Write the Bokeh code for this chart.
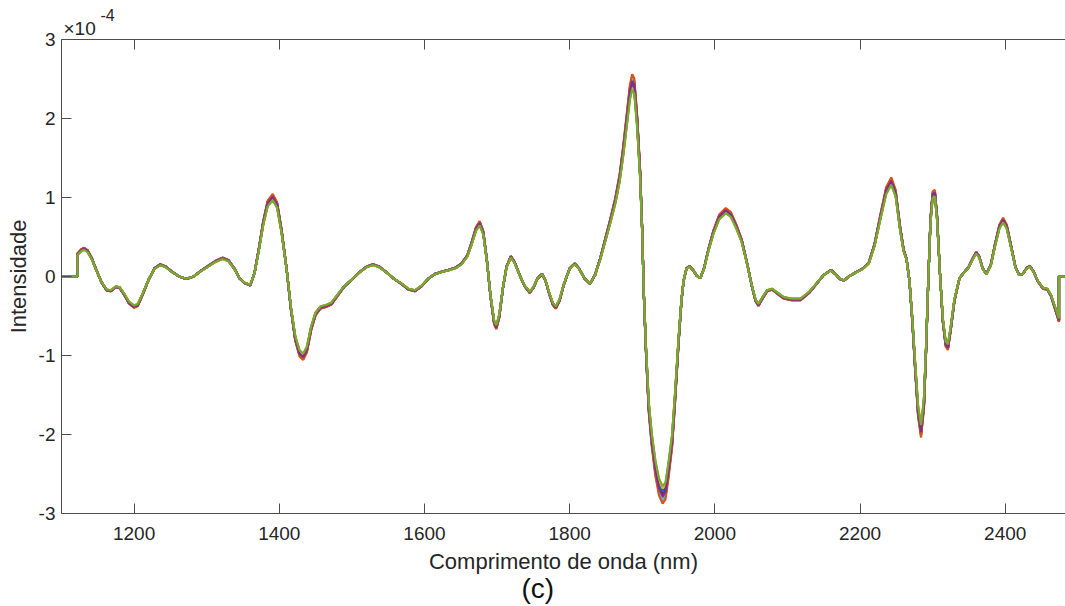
from bokeh.plotting import figure
from bokeh.models import Range1d, LinearAxis, FixedTicker, Title
from bokeh.embed import file_html
from bokeh.resources import INLINE

# Second-derivative NIR spectrum (intensity in units of 1e-4), sampled at
# the turning points and along the flanks of each band.
wavelength_nm = [
    1100, 1122, 1122, 1127, 1131, 1136, 1142, 1148, 1155, 1162, 1168, 1175,
    1180, 1186, 1193, 1200, 1205, 1212, 1220, 1228, 1236, 1244, 1252, 1262,
    1272, 1282, 1292, 1302, 1312, 1322, 1330, 1338, 1345, 1352, 1360, 1366,
    1372, 1378, 1384, 1391, 1397, 1403, 1410, 1416, 1422, 1428, 1433, 1438,
    1444, 1450, 1457, 1465, 1472, 1480, 1490, 1500, 1510, 1520, 1529, 1538,
    1548, 1558, 1568, 1578, 1587, 1596, 1605, 1614, 1624, 1633, 1643, 1651,
    1659, 1665, 1671, 1676, 1681, 1686, 1691, 1696, 1699, 1703, 1708, 1713,
    1719, 1724, 1731, 1738, 1745, 1750, 1756, 1762, 1767, 1772, 1777, 1781,
    1786, 1792, 1800, 1807, 1813, 1820, 1828, 1835, 1842, 1849, 1856, 1863,
    1869, 1874, 1879, 1883, 1886, 1889, 1893, 1897, 1900, 1902, 1905, 1909,
    1913, 1918, 1923, 1928, 1932, 1936, 1941, 1945, 1950, 1954, 1957, 1961,
    1965, 1970, 1975, 1980, 1985, 1991, 1998, 2006, 2015, 2022, 2030, 2037,
    2044, 2051, 2056, 2060, 2065, 2072, 2079, 2086, 2095, 2106, 2118, 2130,
    2141, 2150, 2160, 2166, 2172, 2178, 2186, 2196, 2204, 2212, 2220, 2228,
    2236, 2243, 2249, 2255, 2260, 2264, 2268, 2272, 2276, 2280, 2284, 2288,
    2291, 2294, 2297, 2300, 2303, 2306, 2310, 2314, 2318, 2321, 2325, 2330,
    2337, 2344, 2349, 2355, 2360, 2364, 2369, 2374, 2380, 2386, 2392, 2397,
    2402, 2408, 2414, 2419, 2424, 2430, 2434, 2439, 2445, 2452, 2458, 2463,
    2468, 2474, 2474, 2500,
]
intensity_e4 = [
    0.00, 0.00, 0.28, 0.33, 0.35, 0.32, 0.22, 0.08, -0.07, -0.17, -0.18, -0.13,
    -0.14, -0.22, -0.33, -0.38, -0.36, -0.22, -0.04, 0.10, 0.15, 0.12, 0.06, 0.00,
    -0.03, 0.00, 0.07, 0.13, 0.19, 0.23, 0.20, 0.10, -0.02, -0.08, -0.11, 0.05,
    0.35, 0.68, 0.92, 1.00, 0.90, 0.58, 0.10, -0.40, -0.78, -0.97, -1.01, -0.92,
    -0.65, -0.47, -0.39, -0.37, -0.34, -0.24, -0.12, -0.04, 0.05, 0.12, 0.15, 0.12,
    0.05, -0.03, -0.09, -0.16, -0.18, -0.12, -0.03, 0.03, 0.06, 0.08, 0.11, 0.16,
    0.26, 0.42, 0.60, 0.67, 0.55, 0.20, -0.25, -0.58, -0.64, -0.50, -0.15, 0.12,
    0.25, 0.18, 0.02, -0.12, -0.20, -0.14, -0.02, 0.03, -0.06, -0.22, -0.35, -0.39,
    -0.30, -0.10, 0.10, 0.16, 0.10, -0.02, -0.09, 0.02, 0.22, 0.46, 0.70, 0.96,
    1.25, 1.60, 2.00, 2.32, 2.45, 2.40, 1.95, 1.30, 0.55, -0.18, -0.90, -1.65,
    -2.05, -2.41, -2.65, -2.75, -2.70, -2.45, -2.08, -1.55, -0.81, -0.30, -0.05, 0.10,
    0.13, 0.08, 0.01, -0.02, 0.10, 0.33, 0.56, 0.75, 0.83, 0.78, 0.62, 0.45,
    0.18, -0.12, -0.30, -0.36, -0.28, -0.18, -0.16, -0.21, -0.27, -0.29, -0.29, -0.20,
    -0.08, 0.02, 0.08, 0.03, -0.03, -0.05, 0.01, 0.06, 0.10, 0.17, 0.40, 0.75,
    1.08, 1.20, 1.05, 0.62, 0.33, 0.22, -0.05, -0.55, -1.15, -1.70, -1.95, -1.60,
    -0.90, -0.05, 0.70, 1.03, 1.05, 0.75, 0.05, -0.55, -0.85, -0.89, -0.65, -0.30,
    -0.02, 0.06, 0.11, 0.22, 0.30, 0.25, 0.10, 0.03, 0.14, 0.40, 0.63, 0.71,
    0.63, 0.38, 0.12, 0.02, 0.03, 0.11, 0.13, 0.06, -0.06, -0.15, -0.16, -0.24,
    -0.38, -0.55, 0.00, 0.00,
]

# Relative band strength of each sample spectrum
sample_gain = [1.00, 1.03, 0.98, 1.02, 0.99, 1.025, 1.01, 1.015, 1.00, 0.97,
               1.02, 0.98, 1.03, 1.00, 0.99, 1.045, 0.975, 1.01, 0.965]

line_colors = ["#0072BD", "#D95319", "#EDB120", "#7E2F8E",
               "#77AC30", "#4DBEEE", "#A2142F"]

x_ticks = [1200, 1400, 1600, 1800, 2000, 2200, 2400]
y_ticks = [-3, -2, -1, 0, 1, 2, 3]

X_MIN, X_MAX = 1100, 2483
Y_MIN, Y_MAX = -3, 3

W, H = 1065, 606
LEFT, TOP, BOTTOM = 61, 39, 93

FONT = "Liberation Sans"
INK = "#262626"
AXIS = "#4d4d4d"

p = figure(width=W, height=H, output_backend="svg", toolbar_location=None,
           x_range=Range1d(X_MIN, X_MAX), y_range=Range1d(Y_MIN, Y_MAX),
           x_axis_location=None, y_axis_location=None,
           min_border_left=LEFT, min_border_right=0, min_border_top=TOP,
           min_border_bottom=BOTTOM)
p.outline_line_color = None
p.background_fill_color = "white"
p.border_fill_color = "white"
p.xgrid.visible = False
p.ygrid.visible = False

for i, g in enumerate(sample_gain):
    p.line(wavelength_nm, [v * g for v in intensity_e4],
           line_color=line_colors[i % len(line_colors)], line_width=2.2)


def style(ax):
    ax.axis_line_color = AXIS
    ax.axis_line_width = 1
    ax.major_tick_line_color = AXIS
    ax.major_tick_line_width = 1
    ax.major_tick_in = 10
    ax.major_tick_out = 0
    ax.minor_tick_line_color = None
    ax.major_label_text_font = FONT
    ax.major_label_text_font_size = "19px"
    ax.major_label_text_color = INK
    ax.axis_label_text_font = FONT
    ax.axis_label_text_font_size = "22px"
    ax.axis_label_text_color = INK
    ax.axis_label_text_font_style = "normal"


xb = LinearAxis(ticker=FixedTicker(ticks=x_ticks),
                axis_label="Comprimento de onda (nm)")
style(xb)
xb.major_label_standoff = 13
xb.axis_label_standoff = 6
p.add_layout(xb, "below")

# Top edge of the box with inward ticks, no labels
xt = LinearAxis(ticker=FixedTicker(ticks=x_ticks))
style(xt)
xt.major_label_text_color = None
xt.major_label_text_font_size = "0px"
xt.major_label_standoff = 0
p.add_layout(xt, "above")

yl = LinearAxis(ticker=FixedTicker(ticks=y_ticks), axis_label="Intensidade")
style(yl)
yl.major_label_overrides = {t: str(t) for t in y_ticks}
yl.major_label_standoff = 6
yl.axis_label_standoff = 5
p.add_layout(yl, "left")


def set_standoff(t, v):
    try:
        t.standoff = v
    except ValueError:
        t.standoff = 0


# Exponent of the intensity axis
t_base = Title(text="×10", align="left", offset=2, text_font=FONT,
               text_font_size="19px", text_color=INK,
               text_font_style="normal")
set_standoff(t_base, 2)
p.add_layout(t_base, "above")
t_exp = Title(text="-4", align="left", offset=39, text_font=FONT,
              text_font_size="16px", text_color=INK, text_font_style="normal")
set_standoff(t_exp, -12)
p.add_layout(t_exp, "above")

# Panel tag under the axis title
t_tag = Title(text="(c)", align="left", offset=460, text_font=FONT,
              text_font_size="28px", text_color="#111111",
              text_font_style="normal")
set_standoff(t_tag, -11)
p.add_layout(t_tag, "below")

open("out.html", "w").write(file_html(p, INLINE))
